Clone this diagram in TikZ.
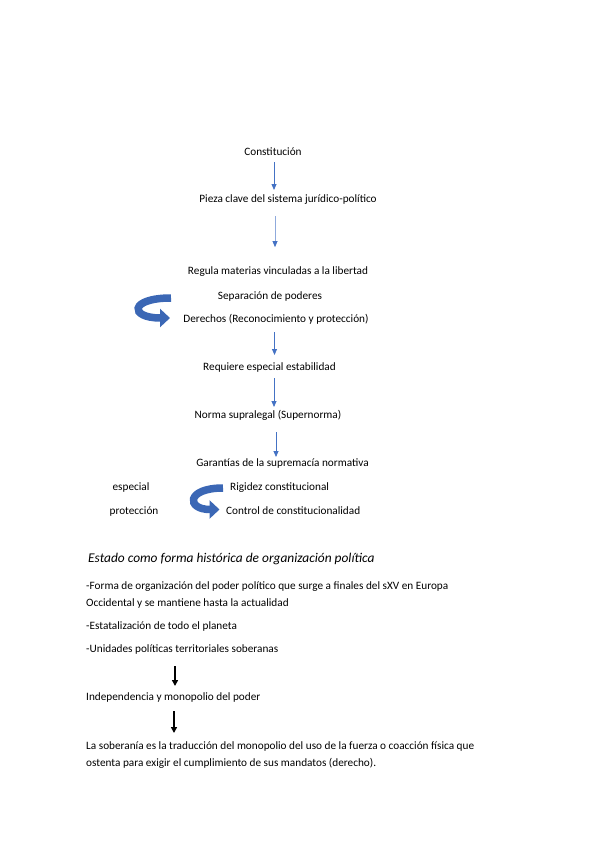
\documentclass[tikz,border=0pt]{standalone}
\usepackage{fontspec}
\setmainfont{Carlito}
\usetikzlibrary{arrows.meta}
\definecolor{bluearr}{RGB}{68,114,196}
\definecolor{bluelight}{RGB}{143,170,220}
\definecolor{bandblue}{RGB}{59,103,181}
\begin{document}
\begin{tikzpicture}[x=1pt,y=-1pt,
  txt/.style={inner sep=0pt,font=\fontsize{11.25}{13}\selectfont},
  ttl/.style={inner sep=0pt,font=\fontsize{13.4}{15}\selectfont\itshape},
  barrow/.style={draw=bluearr,line width=0.8pt,-{Triangle[length=6pt,width=5pt]}},
  karrow/.style={draw=black,line width=1.6pt,-{Triangle[length=6pt,width=6pt]}},
  curvarrow/.style={draw=bandblue,line width=7.5pt,-{Triangle[length=10pt,width=18pt]}}]
\useasboundingbox (0,0) rectangle (599,848);
% top diagram
\node[txt,anchor=base] (c1) at (273,155) {Constitución};
\node[txt,anchor=base] (c2) at (288,202) {Pieza clave del sistema jurídico-político};
\node[txt,anchor=base] (c3) at (278,274) {Regula materias vinculadas a la libertad};
\node[txt,anchor=base] (c4) at (270,299) {Separación de poderes};
\node[txt,anchor=base] (c5) at (276,322) {Derechos (Reconocimiento y protección)};
\node[txt,anchor=base] (c6) at (269.5,370) {Requiere especial estabilidad};
\node[txt,anchor=base] (c7) at (268,418) {Norma supralegal (Supernorma)};
\node[txt,anchor=base] (c8) at (282.5,466) {Garantías de la supremacía normativa};
\node[txt,anchor=base] (e1) at (131,490) {especial};
\node[txt,anchor=base] (e2) at (134,514) {protección};
\node[txt,anchor=base west] (r1) at (230,490) {Rigidez constitucional};
\node[txt,anchor=base west] (r2) at (226,514) {Control de constitucionalidad};
% blue arrows
\coordinate (a1s) at (274,162); \coordinate (a1e) at (274,190);
\coordinate (a2s) at (275,216); \coordinate (a2e) at (275,247);
\coordinate (a3s) at (274.5,332); \coordinate (a3e) at (274.5,355);
\coordinate (a4s) at (274,378); \coordinate (a4e) at (274,407);
\coordinate (a5s) at (276,432); \coordinate (a5e) at (276,457);
\draw[barrow] (a1s) -- (a1e);
\draw[barrow,draw=bluelight] (a2s) -- (a2e);
\fill[bluearr] (a2e) -- ++(-2.5,-6) -- ++(5,0) -- cycle;
\draw[barrow] (a3s) -- (a3e);
\draw[barrow] (a4s) -- (a4e);
\draw[barrow] (a5s) -- (a5e);
% curved arrows
\coordinate (k1s) at (171,298); \coordinate (k1e) at (170,318);
\draw[curvarrow] (k1s) .. controls (129,298) and (129,318) .. (k1e);
\coordinate (k2s) at (223,488); \coordinate (k2e) at (219.5,509.5);
\draw[curvarrow] (k2s) .. controls (186,488) and (186,509.5) .. (k2e);
% lower section
\node[ttl,anchor=base west] (t0) at (88,562) {Estado como forma histórica de organización política};
\node[txt,anchor=base west] (l1) at (86,589) {-Forma de organización del poder político que surge a finales del sXV en Europa};
\node[txt,anchor=base west] (l2) at (86,606) {Occidental y se mantiene hasta la actualidad};
\node[txt,anchor=base west] (l3) at (86,629) {-Estatalización de todo el planeta};
\node[txt,anchor=base west] (l4) at (86,652) {-Unidades políticas territoriales soberanas};
\node[txt,anchor=base west] (l5) at (86,700) {Independencia y monopolio del poder};
\node[txt,anchor=base west] (l6) at (86,749) {La soberanía es la traducción del monopolio del uso de la fuerza o coacción física que};
\node[txt,anchor=base west] (l7) at (86,766) {ostenta para exigir el cumplimiento de sus mandatos (derecho).};
\coordinate (b1s) at (175,666); \coordinate (b1e) at (175,686);
\coordinate (b2s) at (174,711); \coordinate (b2e) at (174,733);
\draw[karrow] (b1s) -- (b1e);
\draw[karrow] (b2s) -- (b2e);
\end{tikzpicture}
\end{document}
